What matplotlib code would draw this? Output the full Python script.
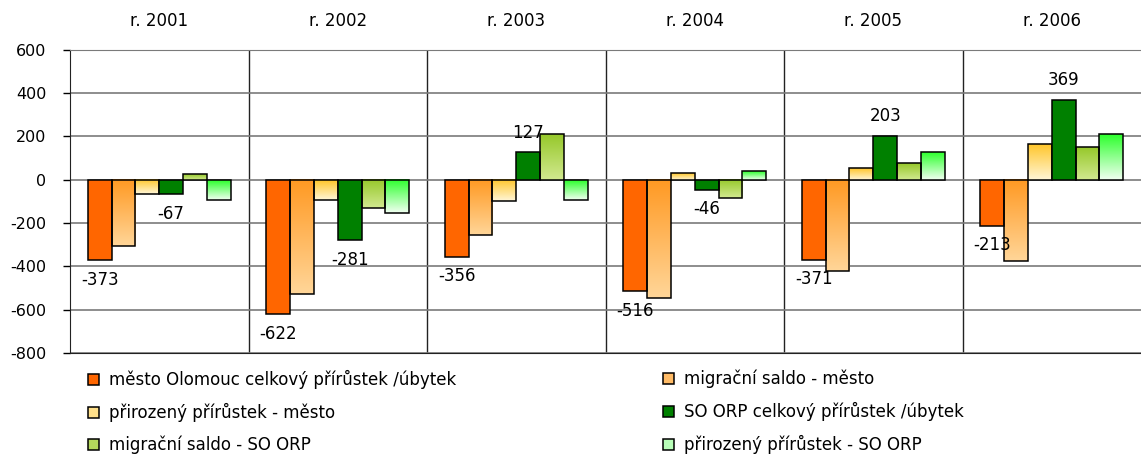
import numpy as np
import matplotlib
matplotlib.use('Agg')
import matplotlib.pyplot as plt
from matplotlib.colors import LinearSegmentedColormap
from matplotlib.patches import Patch

plt.rcParams['font.family'] = ['DejaVu Sans']
plt.rcParams['axes.unicode_minus'] = False

years = ['r. 2001', 'r. 2002', 'r. 2003', 'r. 2004', 'r. 2005', 'r. 2006']
series_names = ['město Olomouc celkový přírůstek /úbytek',
                'migrační saldo - město',
                'přirozený přírůstek - město',
                'SO ORP celkový přírůstek /úbytek',
                'migrační saldo - SO ORP',
                'přirozený přírůstek - SO ORP']

city_total = [-373, -622, -356, -516, -371, -213]
city_migration = [-305, -530, -257, -547, -424, -374]
city_natural = [-68, -92, -101, 32, 55, 166]
orp_total = [-67, -281, 127, -46, 203, 369]
orp_migration = [25, -130, 212, -86, 78, 150]
orp_natural = [-92, -153, -92, 41, 126, 211]

values = [city_total, city_migration, city_natural, orp_total, orp_migration, orp_natural]
labelled = [0, 3]

# (top colour, bottom colour); None means solid fill
fills = [('#FF6600', None),
         ('#FF9922', '#FFD699'),
         ('#FFC62A', '#FFF6D8'),
         ('#008000', None),
         ('#96C82A', '#D2E990'),
         ('#2CFF2C', '#F2FFF2')]
legend_colors = ['#FF6600', '#FFBB66', '#FFE08A', '#008000', '#B4D85C', '#B8FFB8']

fig = plt.figure(figsize=(11.41, 4.55), dpi=100)
ax = fig.add_axes([70/1141, 102/455, 1071/1141, 303.5/455])

x = np.arange(len(years))
n = len(values)
w = 0.8 / n

for j, vals in enumerate(values):
    top, bottom = fills[j]
    bars = ax.bar(x + (j - (n - 1) / 2) * w, vals, w,
                  facecolor=top if bottom is None else 'none',
                  edgecolor='black', linewidth=1.1, zorder=3)
    if bottom is not None:
        cmap = LinearSegmentedColormap.from_list('g%d' % j, [bottom, top])
        grad = np.linspace(0, 1, 256).reshape(-1, 1)
        for b in bars:
            y0, h = b.get_y(), b.get_height()
            ax.imshow(grad, extent=(b.get_x(), b.get_x() + b.get_width(),
                                    min(y0, y0 + h), max(y0, y0 + h)),
                      origin='lower', cmap=cmap, aspect='auto', zorder=2.5)
    if j in labelled:
        for b, v in zip(bars, vals):
            ax.annotate(str(v), (b.get_x() + b.get_width() / 2, v),
                        xytext=(0, 14 if v > 0 else -14), textcoords='offset points',
                        ha='center', va='center', fontsize=12, zorder=4)

ax.set_xlim(-0.5, len(years) - 0.5)
ax.set_ylim(-800, 600)
ax.set_yticks(np.arange(-800, 601, 200))
ax.yaxis.grid(True, color='#7a7a7a', linewidth=1.2, zorder=1)
for b in x[:-1] + 0.5:
    ax.axvline(b, color='#222222', linewidth=1.0, zorder=1)

ax.set_xticks(x)
ax.set_xticklabels(years, fontsize=12)
ax.xaxis.set_ticks_position('top')
ax.tick_params(axis='x', length=0, pad=14)
ax.tick_params(axis='y', labelsize=11.5, length=5, width=1, pad=12, direction='out')

ax.spines['right'].set_visible(False)
ax.spines['top'].set_color('#7a7a7a')
ax.spines['left'].set_color('#222222')
ax.spines['bottom'].set_color('#222222')

handles = [Patch(facecolor=c, edgecolor='black', linewidth=1.1) for c in legend_colors]
for col, xa in [(0, 88/1141), (1, 663/1141)]:
    idx = [col, col + 2, col + 4]
    fig.legend([handles[i] for i in idx], [series_names[i] for i in idx],
               loc='upper left', bbox_to_anchor=(xa, 1 - 370/455),
               frameon=False, fontsize=12, borderpad=0, borderaxespad=0,
               handlelength=0.65, handleheight=0.65, handletextpad=0.6,
               labelspacing=0.83)

fig.savefig('out.png', dpi=100, facecolor='white')
